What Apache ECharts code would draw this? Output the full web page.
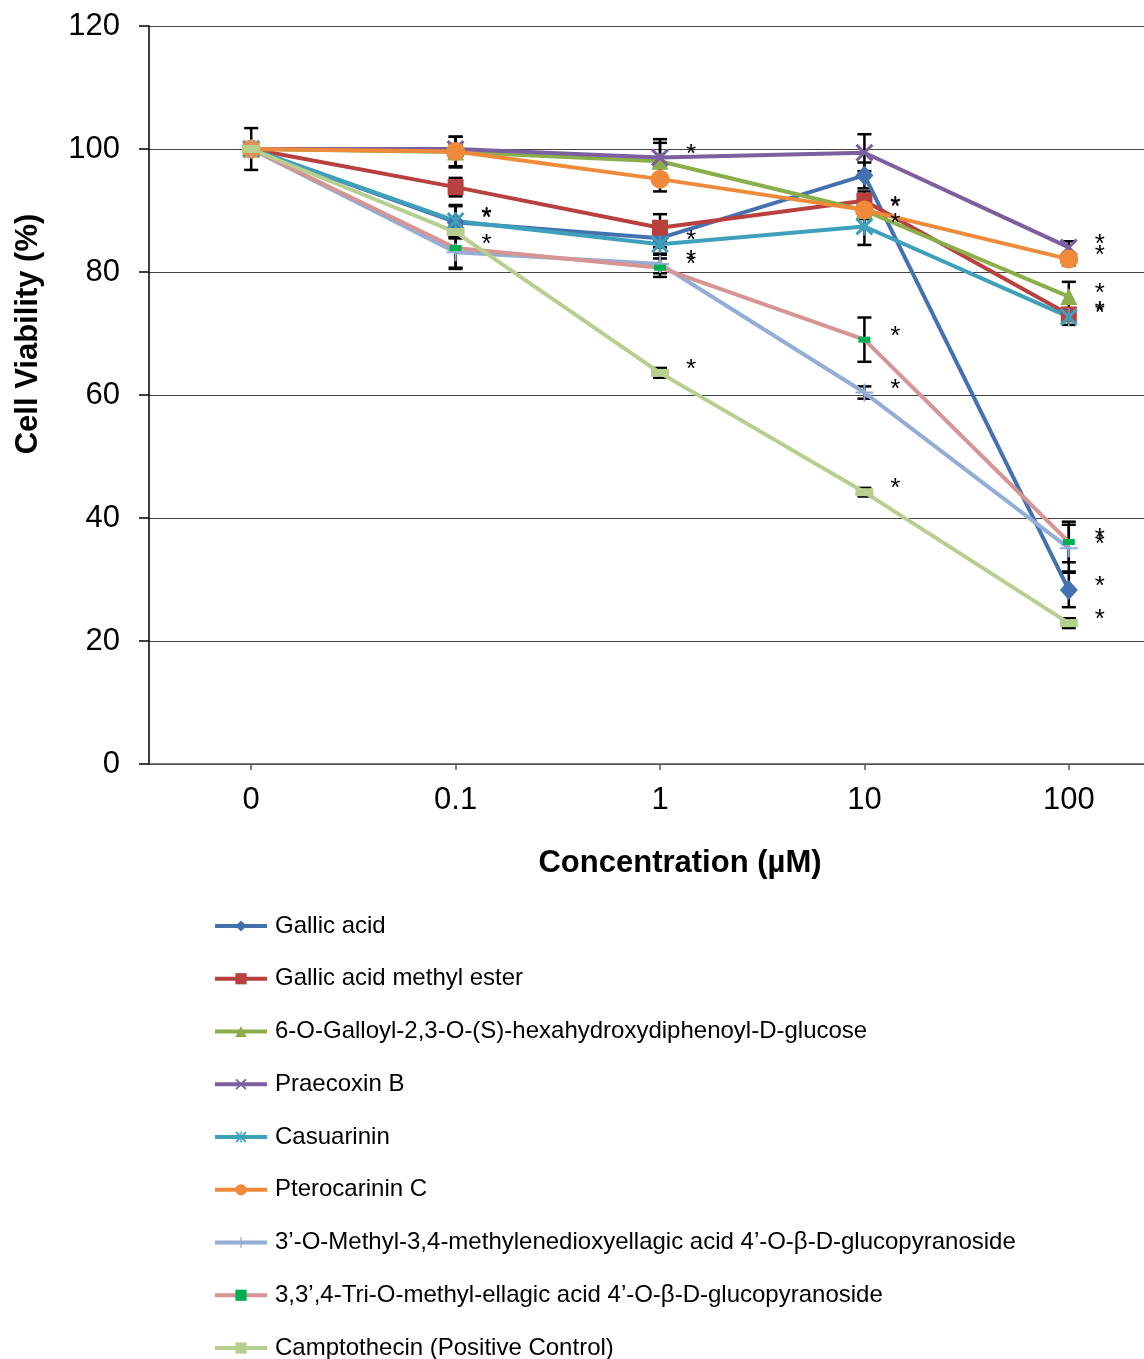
<!DOCTYPE html>
<html>
<head>
<meta charset="utf-8">
<title>Cell Viability</title>
<script src="https://cdn.jsdelivr.net/npm/echarts@6/dist/echarts.min.js"></script>
<style>
  html, body { margin: 0; padding: 0; background: #ffffff; overflow: hidden; }
  #chart { width: 1200px; height: 1420px; }
</style>
</head>
<body>
<div id="chart"></div>
<script>
// Concentrations (µM) on the category axis
const categories = ['0', '0.1', '1', '10', '100'];
const yTicks = [0, 20, 40, 60, 80, 100, 120];

// Mean cell viability (%) per compound
const gallicAcid        = [100, 88.1, 85.5, 95.7, 28.3];
const gallicMethylEster = [100, 93.8, 87.2, 91.6, 73.1];
const galloylHHDPGlc    = [100, 99.5, 98.0, 90.0, 76.0];
const praecoxinB        = [100, 100.0, 98.6, 99.4, 84.0];
const casuarinin        = [100, 88.3, 84.5, 87.4, 72.7];
const pterocarininC     = [100, 99.6, 95.1, 90.1, 82.1];
const methylEllagicGlc  = [100, 83.2, 81.3, 60.4, 35.1];
const triMethylEllagic  = [100, 83.9, 80.7, 69.0, 36.1];
const camptothecin      = [100, 86.5, 63.6, 44.2, 22.9];

// Standard deviations (±)
const errGallicAcid     = [3.4, 2.6, 1.5, 2.1, 2.8];
const errMethylEster    = [1.0, 1.5, 2.2, 1.5, 1.0];
const errGalloylHHDP    = [1.0, 2.5, 3.0, 1.0, 2.4];
const errPraecoxinB     = [1.0, 0.8, 3.0, 3.0, 1.0];
const errCasuarinin     = [1.0, 2.6, 1.5, 3.0, 1.3];
const errPterocarininC  = [1.0, 2.4, 2.0, 1.5, 1.0];
const errMethylEllagic  = [1.0, 2.7, 1.5, 1.0, 3.8];
const errTriMethyl      = [1.0, 3.2, 1.5, 3.6, 3.3];
const errCamptothecin   = [1.0, 1.0, 0.8, 0.7, 0.8];

// Significance flags (1 = marked with *)
const sigGallicAcid     = [0, 1, 0, 0, 1];
const sigMethylEster    = [0, 0, 0, 0, 1];
const sigGalloylHHDP    = [0, 0, 0, 1, 1];
const sigPraecoxinB     = [0, 0, 1, 0, 1];
const sigCasuarinin     = [0, 1, 1, 1, 1];
const sigPterocarininC  = [0, 0, 0, 1, 1];
const sigMethylEllagic  = [0, 0, 1, 1, 1];
const sigTriMethyl      = [0, 1, 1, 1, 1];
const sigCamptothecin   = [0, 0, 1, 1, 1];

const FONT = '"Liberation Sans", Arial, Helvetica, sans-serif';

// Marker outlines
const crossPath = 'path://M0,1.2L1.2,0L10,8.8L8.8,10Z M8.8,0L10,1.2L1.2,10L0,8.8Z';
const starPath  = 'path://M0,1.2L1.2,0L10,8.8L8.8,10Z M8.8,0L10,1.2L1.2,10L0,8.8Z M4.4,0L5.6,0L5.6,10L4.4,10Z';
const plusPath  = 'path://M4.45,0L5.55,0L5.55,10L4.45,10Z M0,4.45L10,4.45L10,5.55L0,5.55Z';

const seriesDefs = [
  { name: 'Gallic acid', data: gallicAcid, err: errGallicAcid, sig: sigGallicAcid,
    color: '#4472B0', symbol: 'diamond', size: [18, 20] },
  { name: 'Gallic acid methyl ester', data: gallicMethylEster, err: errMethylEster, sig: sigMethylEster,
    color: '#B8413F', symbol: 'rect', size: 16 },
  { name: '6-O-Galloyl-2,3-O-(S)-hexahydroxydiphenoyl-D-glucose', data: galloylHHDPGlc, err: errGalloylHHDP, sig: sigGalloylHHDP,
    color: '#8AAE4A', symbol: 'triangle', size: 17 },
  { name: 'Praecoxin B', data: praecoxinB, err: errPraecoxinB, sig: sigPraecoxinB,
    color: '#7B5FA0', symbol: crossPath, size: 18 },
  { name: 'Casuarinin', data: casuarinin, err: errCasuarinin, sig: sigCasuarinin,
    color: '#3FA0BC', symbol: starPath, size: 18 },
  { name: 'Pterocarinin C', data: pterocarininC, err: errPterocarininC, sig: sigPterocarininC,
    color: '#EE8A3A', symbol: 'circle', size: 19 },
  { name: '3\u2019-O-Methyl-3,4-methylenedioxyellagic acid 4\u2019-O-\u03B2-D-glucopyranoside', data: methylEllagicGlc, err: errMethylEllagic, sig: sigMethylEllagic,
    color: '#93AED6', symbol: plusPath, size: 18 },
  { name: '3,3\u2019,4-Tri-O-methyl-ellagic acid 4\u2019-O-\u03B2-D-glucopyranoside', data: triMethylEllagic, err: errTriMethyl, sig: sigTriMethyl,
    color: '#D69492', symbol: 'rect', size: [12, 6], symbolColor: '#00B050' },
  { name: 'Camptothecin (Positive Control)', data: camptothecin, err: errCamptothecin, sig: sigCamptothecin,
    color: '#B7CF8E', symbol: 'rect', size: [18, 8] }
];

const lineSeries = seriesDefs.map(function (d) {
  return {
    name: d.name,
    type: 'line',
    z: 3,
    symbol: d.symbol,
    symbolSize: d.size,
    showAllSymbol: true,
    lineStyle: { color: d.color, width: 4 },
    itemStyle: { color: d.symbolColor || d.color, opacity: 1 },
    label: {
      show: false,
      position: 'inside',
      formatter: '*',
      offset: [31, -3],
      color: '#000000',
      fontFamily: FONT,
      fontSize: 26
    },
    emphasis: { disabled: true },
    data: d.data.map(function (v, i) {
      return d.sig[i] ? { value: v, label: { show: true } } : { value: v };
    })
  };
});

// Error bars (mean ± SD) for every compound and concentration
const errorData = [];
seriesDefs.forEach(function (d) {
  d.data.forEach(function (v, i) { errorData.push([i, v, d.err[i]]); });
});

const errorSeries = {
  type: 'custom',
  name: 'error',
  z: 2,
  silent: true,
  data: errorData,
  renderItem: function (params, api) {
    const x = api.value(0), v = api.value(1), e = api.value(2);
    const top = api.coord([x, v + e]);
    const bot = api.coord([x, v - e]);
    const w = 7;
    const style = { stroke: '#000000', lineWidth: 2.5 };
    return {
      type: 'group',
      children: [
        { type: 'line', shape: { x1: top[0], y1: top[1], x2: bot[0], y2: bot[1] }, style: style },
        { type: 'line', shape: { x1: top[0] - w, y1: top[1], x2: top[0] + w, y2: top[1] }, style: style },
        { type: 'line', shape: { x1: bot[0] - w, y1: bot[1], x2: bot[0] + w, y2: bot[1] }, style: style }
      ]
    };
  }
};

const chart = echarts.init(document.getElementById('chart'), null, { renderer: 'canvas' });

chart.setOption({
  animation: false,
  backgroundColor: '#ffffff',
  textStyle: { fontFamily: FONT },
  grid: { left: 149, top: 26, width: 1022, height: 738 },
  xAxis: {
    type: 'category',
    data: categories,
    boundaryGap: true,
    axisLine: { lineStyle: { color: '#555555', width: 1.5 } },
    axisTick: { show: true, alignWithLabel: true, length: 6, lineStyle: { color: '#555555', width: 1.5 } },
    axisLabel: { color: '#000000', fontSize: 31, fontFamily: FONT, margin: 21 },
    splitLine: { show: false }
  },
  yAxis: {
    type: 'value',
    min: yTicks[0],
    max: yTicks[yTicks.length - 1],
    interval: 20,
    axisLine: { show: true, lineStyle: { color: '#000000', width: 1.5 } },
    axisTick: { show: true, length: 10, lineStyle: { color: '#000000', width: 1.5 } },
    axisLabel: { color: '#000000', fontSize: 31, fontFamily: FONT, margin: 29 },
    splitLine: { show: true, lineStyle: { color: '#444444', width: 1.2 } }
  },
  legend: {
    orient: 'vertical',
    left: 213,
    top: 914,
    padding: 0,
    itemWidth: 52,
    itemHeight: 14,
    itemGap: 28.75,
    selectedMode: false,
    lineStyle: { width: 4 },
    textStyle: { color: '#000000', fontSize: 24, fontFamily: FONT, padding: [0, 0, 0, 3] },
    data: seriesDefs.map(function (d) { return d.name; })
  },
  graphic: [
    {
      type: 'text',
      x: 28, y: 334,
      rotation: Math.PI / 2,
      style: {
        text: 'Cell Viability (%)',
        fontFamily: FONT, fontSize: 31, fontWeight: 'bold',
        fill: '#000000', align: 'center', verticalAlign: 'middle'
      }
    },
    {
      type: 'text',
      x: 680, y: 863,
      style: {
        text: 'Concentration (\u00B5M)',
        fontFamily: FONT, fontSize: 31, fontWeight: 'bold',
        fill: '#000000', align: 'center', verticalAlign: 'middle'
      }
    }
  ],
  series: [errorSeries].concat(lineSeries)
});
</script>
</body>
</html>
